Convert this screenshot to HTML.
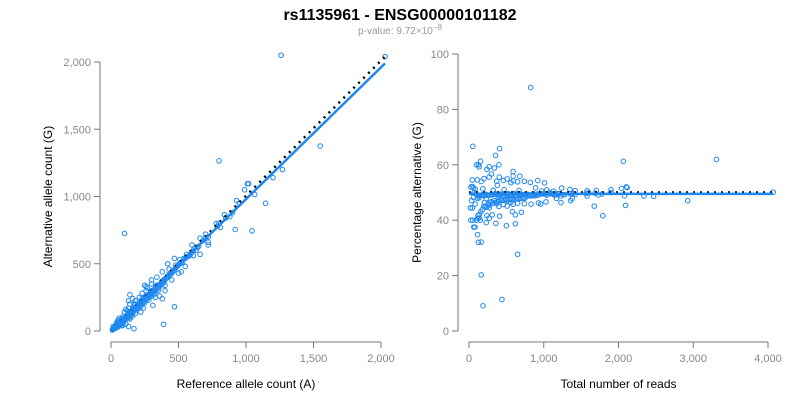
<!DOCTYPE html>
<html><head><meta charset="utf-8"><style>
body{margin:0;background:#fff;}
svg{display:block;font-family:"Liberation Sans",Arial,sans-serif;}
</style></head><body>
<svg id="chart" width="800" height="400" viewBox="0 0 800 400">
<text x="400" y="20" text-anchor="middle" font-size="16" font-weight="bold" fill="#000">rs1135961 - ENSG00000101182</text>
<text x="400" y="34" text-anchor="middle" font-size="10" fill="#999">p-value: 9.72×10<tspan dy="-4" font-size="8">−8</tspan></text>
<g id="left"></g>
<g id="right"></g>
</svg>
<script>
const refCounts = [
 100,1260,2030,800,1550,1270,1200,1145,1045,920,
 1010,1020,990,930,1065,840,880,810,790,720,
 720,660,470,390,170,130,140,130,
 600,610,580,560,540,520,500,480,470,455,
 440,430,420,410,400,390,380,370,360,350,
 340,330,320,310,300,290,280,270,260,250,
 240,230,220,210,200,190,180,170,160,150,
 140,130,120,110,100,90,80,70,60,50,
 590,570,550,530,510,490,460,450,430,415,
 395,375,355,345,335,315,305,295,285,275,
 265,255,245,235,225,215,205,195,185,175,
 165,155,145,135,125,115,105,95,85,75,
 65,55,45,35,28,22,18,12,40,30,
 700,680,650,630,560,510,450,380,330,260,
 230,200,160,120,90,60,40,20,17,30,
 50,70,150,180,110,75,45,25,15,10,
 700,780,850,950,720,660,800,640,900,600,
 110,90,150,120,200,170,250,210,300,260,
 140,100,180,130,220,180,280,230,320,270,
 350,300,400,340,450,380,500,420,550,470,
 60,40,70,50,80,55,160,110,240,160,
 330,260,400,300,220,140,360,250,90,60,
 75,85,110,380,310,140,520,610,480,430];
const altCounts = [
 725,2050,2040,1265,1375,1200,1140,950,745,755,
 1095,1095,1050,970,1015,865,850,770,780,660,
 640,570,180,50,17,33,270,225,
 590,600,560,550,540,510,490,470,450,440,
 430,410,400,395,380,360,350,345,330,320,
 310,300,300,280,270,265,255,240,235,225,
 215,205,200,185,175,165,160,145,140,125,
 118,105,98,90,78,68,58,48,40,30,
 570,555,540,510,500,480,450,430,420,400,
 385,365,345,335,330,305,300,290,275,265,
 260,250,240,225,220,210,200,190,180,172,
 160,150,140,130,120,112,100,92,82,72,
 62,53,44,35,30,24,16,13,24,20,
 690,670,630,600,570,530,430,370,340,250,
 240,190,165,110,95,55,42,24,34,28,
 60,65,130,200,95,88,38,20,10,8,
 720,800,840,950,700,690,800,620,880,640,
 90,110,120,150,170,200,210,250,260,300,
 100,140,130,170,180,225,230,280,270,320,
 300,350,340,400,380,440,430,500,480,540,
 40,60,50,75,55,80,110,160,170,240,
 250,330,300,380,140,200,260,340,60,95,
 40,40,52,240,190,90,440,560,490,460];

const NS='http://www.w3.org/2000/svg';
function mk(tag,attrs,parent){const e=document.createElementNS(NS,tag);for(const k in attrs)e.setAttribute(k,attrs[k]);parent.appendChild(e);return e;}
function fmt(v){return v.toLocaleString('en-US');}

function panel(g,cfg){
  const xs=v=>cfg.x0+(v-cfg.xmin)/(cfg.xmax-cfg.xmin)*(cfg.x1-cfg.x0);
  const ys=v=>cfg.y0+(v-cfg.ymin)/(cfg.ymax-cfg.ymin)*(cfg.y1-cfg.y0);
  const ya=mk('line',{x1:cfg.yax,x2:cfg.yax,y1:ys(cfg.yticks[0]),y2:ys(cfg.yticks[cfg.yticks.length-1]),stroke:'#777','stroke-width':1},g);
  
  cfg.yticks.forEach(t=>{
    const l=mk('line',{x1:cfg.yax-6,x2:cfg.yax,y1:ys(t),y2:ys(t),stroke:'#777'},g);
    
    const tx=mk('text',{x:cfg.yax-9,y:ys(t)+4,'text-anchor':'end','font-size':11,fill:'#888'},g);
    tx.textContent=fmt(t);
    
  });
  const xa=mk('line',{x1:xs(cfg.xticks[0]),x2:xs(cfg.xticks[cfg.xticks.length-1]),y1:cfg.xay,y2:cfg.xay,stroke:'#777'},g);
  
  cfg.xticks.forEach(t=>{
    const l=mk('line',{x1:xs(t),x2:xs(t),y1:cfg.xay,y2:cfg.xay+6,stroke:'#777'},g);
    
    const tx=mk('text',{x:xs(t),y:cfg.xay+20,'text-anchor':'middle','font-size':11,fill:'#888'},g);
    tx.textContent=fmt(t);
    
  });
  const xt=mk('text',{x:(xs(cfg.xmin)+xs(cfg.xmax))/2,y:388,'text-anchor':'middle','font-size':12,fill:'#000'},g);
  xt.textContent=cfg.xlabel;
  const cy=(ys(cfg.ymin)+ys(cfg.ymax))/2;
  const yt=mk('text',{x:cfg.ytx,y:cy,'text-anchor':'middle','font-size':12,fill:'#000',transform:`rotate(-90 ${cfg.ytx} ${cy})`},g);
  yt.textContent=cfg.ylabel;
  cfg.px.forEach((v,i)=>{
    const c=mk('circle',{cx:xs(v),cy:ys(cfg.py[i]),r:2.3,fill:'none',stroke:'#1e88f0','stroke-width':1},g);
    
  });
  const ex=mk('line',{x1:xs(cfg.exp[0]),y1:ys(cfg.exp[1]),x2:xs(cfg.exp[2]),y2:ys(cfg.exp[3]),stroke:'#000','stroke-width':2.5,'stroke-dasharray':'2,5'},g);
  
  const fl=mk('line',{x1:xs(cfg.fit[0]),y1:ys(cfg.fit[1]),x2:xs(cfg.fit[2]),y2:ys(cfg.fit[3]),stroke:'#1e88f0','stroke-width':2.5},g);
  
}

panel(document.getElementById('left'),{
  x0:111,x1:381,xmin:0,xmax:2000,y0:331,y1:62,ymin:0,ymax:2000,yax:100,xay:342,ytx:52,
  xticks:[0,500,1000,1500,2000],yticks:[0,500,1000,1500,2000],
  xlabel:'Reference allele count (A)',ylabel:'Alternative allele count (G)',
  px:refCounts,py:altCounts,exp:[0,0,2030,2040],fit:[0,0,2030,1990]
});
const n=Math.min(refCounts.length,altCounts.length);
const totals=refCounts.slice(0,n).map((a,i)=>a+altCounts[i]);
const pcts=refCounts.slice(0,n).map((a,i)=>100*altCounts[i]/(a+altCounts[i]));
panel(document.getElementById('right'),{
  x0:469,x1:768,xmin:0,xmax:4000,y0:331,y1:54,ymin:0,ymax:100,yax:458,xay:342,ytx:421,
  xticks:[0,1000,2000,3000,4000],yticks:[0,20,40,60,80,100],
  xlabel:'Total number of reads',ylabel:'Percentage alternative (G)',
  px:totals,py:pcts,exp:[0,50,4070,50],fit:[0,49.5,4070,49.5]
});
</script>
</body></html>
